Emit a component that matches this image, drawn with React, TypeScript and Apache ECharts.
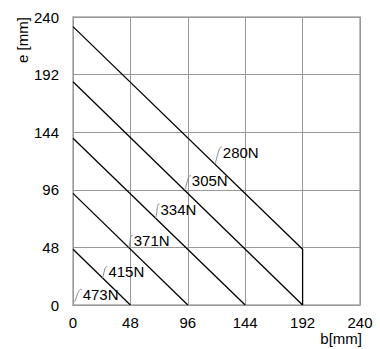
import React, { useEffect, useRef } from "react";
import * as echarts from "echarts";

const xTicks = [0, 48, 96, 144, 192, 240];
const yTicks = [0, 48, 96, 144, 192, 240];

const line280: number[][] = [[0, 232], [192, 46.4], [192, 0]];
const line305: number[][] = [[0, 186], [192, 0]];
const line334: number[][] = [[0, 139], [144, 0]];
const line371: number[][] = [[0, 93], [96, 0]];
const line415: number[][] = [[0, 46.5], [48, 0]];

const labelNames = ["280N", "305N", "334N", "371N", "415N", "473N"];
const labelAnchors: number[][] = [
  [118.6, 117.4],
  [93.5, 96],
  [69, 72.4],
  [46.6, 47.9],
  [24.6, 22.7],
  [1.4, 2.8],
];

const FONT = '"Liberation Sans", Arial, sans-serif';

export default function App() {
  const ref = useRef<HTMLDivElement>(null);
  useEffect(() => {
    document.body.style.margin = "0";
    const chart = echarts.init(ref.current!, null, { renderer: "svg" });
    const lineSeries = [line280, line305, line334, line371, line415].map((d, i) => ({
      type: "line",
      name: labelNames[i],
      data: d,
      symbol: "none",
      lineStyle: { color: "#000", width: 1.3 },
      z: 3,
    }));
    const offsets = [
      [8, -12],
      [7, -9],
      [5, -9],
      [5, -7],
      [6, -6],
      [8, -7],
    ];
    chart.setOption({
      animation: false,
      grid: { left: 73, top: 17, right: 20, bottom: 44 },
      xAxis: {
        type: "value",
        min: xTicks[0],
        max: xTicks[xTicks.length - 1],
        interval: 48,
        axisLine: { show: true, lineStyle: { color: "#999", width: 1 } },
        axisTick: { show: false },
        axisLabel: { color: "#000", fontSize: 15, fontFamily: FONT, margin: 10 },
        splitLine: { show: true, lineStyle: { color: "#999", width: 1 } },
      },
      yAxis: {
        type: "value",
        min: yTicks[0],
        max: yTicks[yTicks.length - 1],
        interval: 48,
        axisLine: { show: true, lineStyle: { color: "#999", width: 1 } },
        axisTick: { show: false },
        axisLabel: { color: "#000", fontSize: 15, fontFamily: FONT, margin: 14 },
        splitLine: { show: true, lineStyle: { color: "#999", width: 1 } },
      },
      graphic: [
        {
          type: "rect",
          shape: { x: 73, y: 17, width: 287, height: 288 },
          style: { fill: "none", stroke: "#aaa", lineWidth: 1.5 },
          silent: true,
        },
        {
          type: "text",
          x: 362,
          y: 338,
          style: { text: "b[mm]", fill: "#000", font: `15px ${FONT}`, align: "right", verticalAlign: "middle" },
        },
        {
          type: "text",
          x: 22,
          y: 40,
          rotation: Math.PI / 2,
          style: { text: "e [mm]", fill: "#000", font: `15px ${FONT}`, align: "center", verticalAlign: "middle" },
        },
      ],
      series: [
        ...lineSeries,
        {
          type: "custom",
          data: labelAnchors,
          z: 4,
          renderItem: (params: any, api: any) => {
            const p = api.coord([api.value(0), api.value(1)]);
            const o = offsets[params.dataIndex];
            const name = labelNames[params.dataIndex];
            return {
              type: "group",
              children: [
                {
                  type: "bezierCurve",
                  shape: {
                    x1: p[0],
                    y1: p[1],
                    cpx1: p[0] + 2,
                    cpy1: p[1] - 4,
                    cpx2: p[0] + o[0] - 4,
                    cpy2: p[1] + o[1] - 7,
                    x2: p[0] + o[0] - 1,
                    y2: p[1] + o[1] - 5,
                  },
                  style: { stroke: "#888", lineWidth: 1, fill: null },
                },
                {
                  type: "text",
                  x: p[0] + o[0],
                  y: p[1] + o[1],
                  style: {
                    text: name,
                    fill: "#000",
                    font: `15px ${FONT}`,
                    align: "left",
                    verticalAlign: "middle",
                  },
                },
              ],
            };
          },
        },
      ],
    });
    return () => chart.dispose();
  }, []);
  return <div ref={ref} style={{ width: 380, height: 349 }} />;
}
